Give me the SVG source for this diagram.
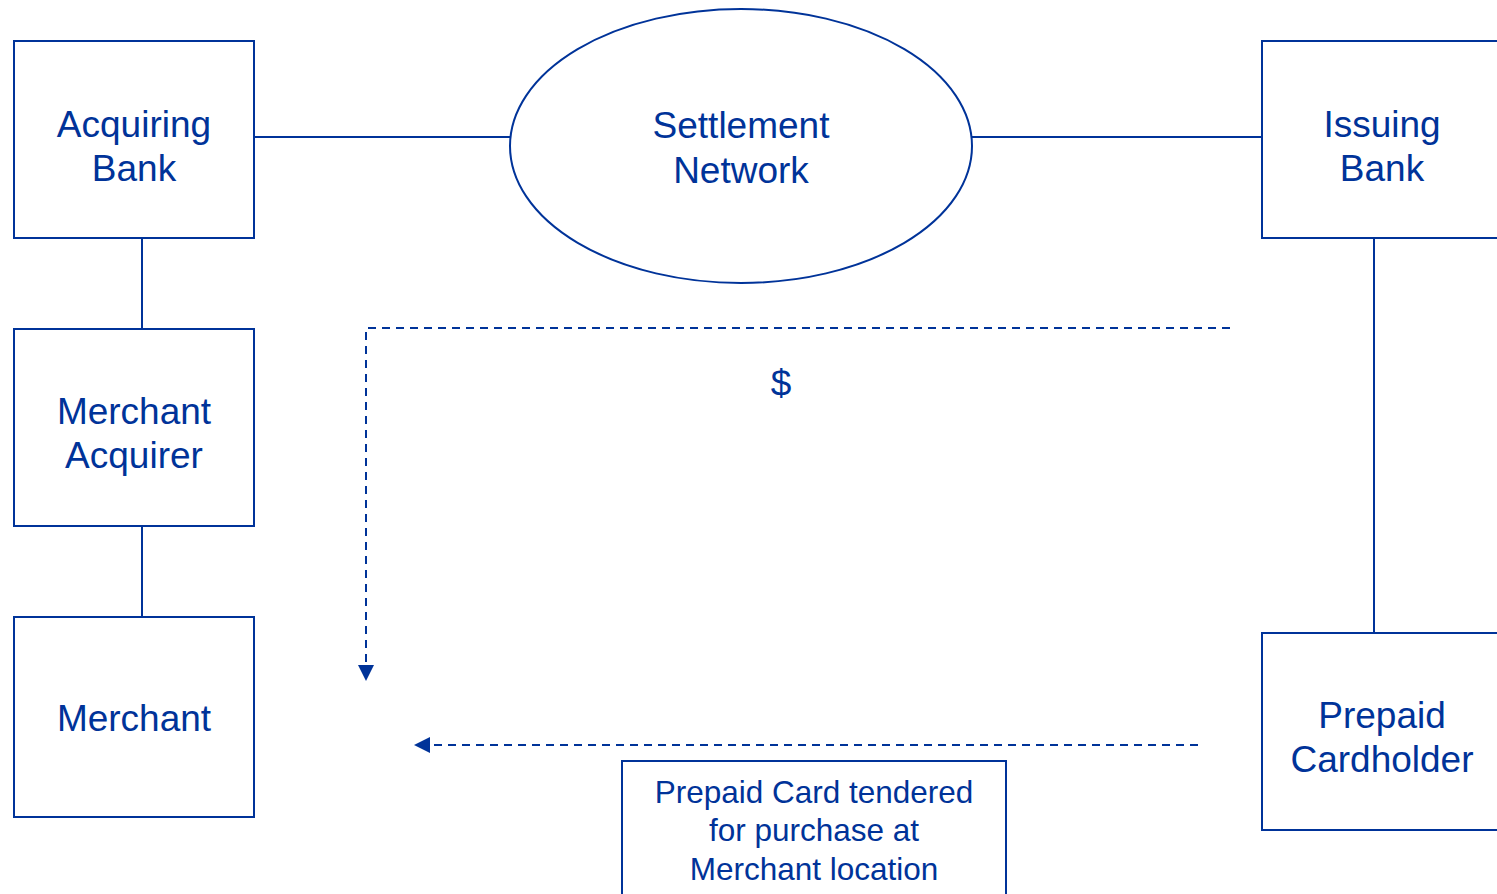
<svg xmlns="http://www.w3.org/2000/svg" width="1497" height="894" viewBox="0 0 1497 894">
<style>
.box{fill:#fff;stroke:#003399;stroke-width:2}
.ln{stroke:#003399;stroke-width:2;fill:none}
.dash{stroke:#003399;stroke-width:2;fill:none;stroke-dasharray:8,6}
text{font-family:"Liberation Sans",Arial,sans-serif;fill:#003399;text-anchor:middle}
.t{font-size:37px}
.s{font-size:31.5px}
</style>
<defs>
<marker id="ah" markerWidth="10" markerHeight="10" refX="9" refY="5" orient="auto" markerUnits="userSpaceOnUse" viewBox="0 0 10 10">
<path d="M0,0 L10,5 L0,10 z" fill="#003399"/>
</marker>
</defs>
<rect width="1497" height="894" fill="#fff"/>
<g id="connectors">
<line class="ln" x1="254" y1="137" x2="511" y2="137"/>
<line class="ln" x1="971" y1="137" x2="1262" y2="137"/>
<line class="ln" x1="142" y1="234" x2="142" y2="329"/>
<line class="ln" x1="142" y1="521" x2="142" y2="617"/>
<line class="ln" x1="1374" y1="234" x2="1374" y2="633"/>
<path class="dash" d="M1230,328 L366,328 L366,670"/>
<path d="M358,665 L374,665 L366,681 z" fill="#003399"/>
<line class="dash" x1="1198" y1="745" x2="428" y2="745"/>
<path d="M430,737 L430,753 L414,745 z" fill="#003399"/>
</g>
<g id="acquiring-bank">
<rect class="box" x="14" y="41" width="240" height="197"/>
<text class="t" x="134" y="137">Acquiring</text>
<text class="t" x="134" y="181">Bank</text>
</g>
<g id="settlement-network">
<ellipse class="box" cx="741" cy="146" rx="231" ry="137"/>
<text class="t" x="741" y="138">Settlement</text>
<text class="t" x="741" y="183">Network</text>
</g>
<g id="issuing-bank">
<rect class="box" x="1262" y="41" width="250" height="197"/>
<text class="t" x="1382" y="137">Issuing</text>
<text class="t" x="1382" y="181">Bank</text>
</g>
<g id="merchant-acquirer">
<rect class="box" x="14" y="329" width="240" height="197"/>
<text class="t" x="134" y="424">Merchant</text>
<text class="t" x="134" y="468">Acquirer</text>
</g>
<g id="merchant">
<rect class="box" x="14" y="617" width="240" height="200"/>
<text class="t" x="134" y="731">Merchant</text>
</g>
<g id="prepaid-cardholder">
<rect class="box" x="1262" y="633" width="250" height="197"/>
<text class="t" x="1382" y="728">Prepaid</text>
<text class="t" x="1382" y="772">Cardholder</text>
</g>
<g id="dollar">
<text class="t" x="781" y="396">$</text>
</g>
<g id="tender-note">
<rect class="box" x="622" y="761" width="384" height="150"/>
<text class="s" x="814" y="803">Prepaid Card tendered</text>
<text class="s" x="814" y="841">for purchase at</text>
<text class="s" x="814" y="880">Merchant location</text>
</g>
</svg>
